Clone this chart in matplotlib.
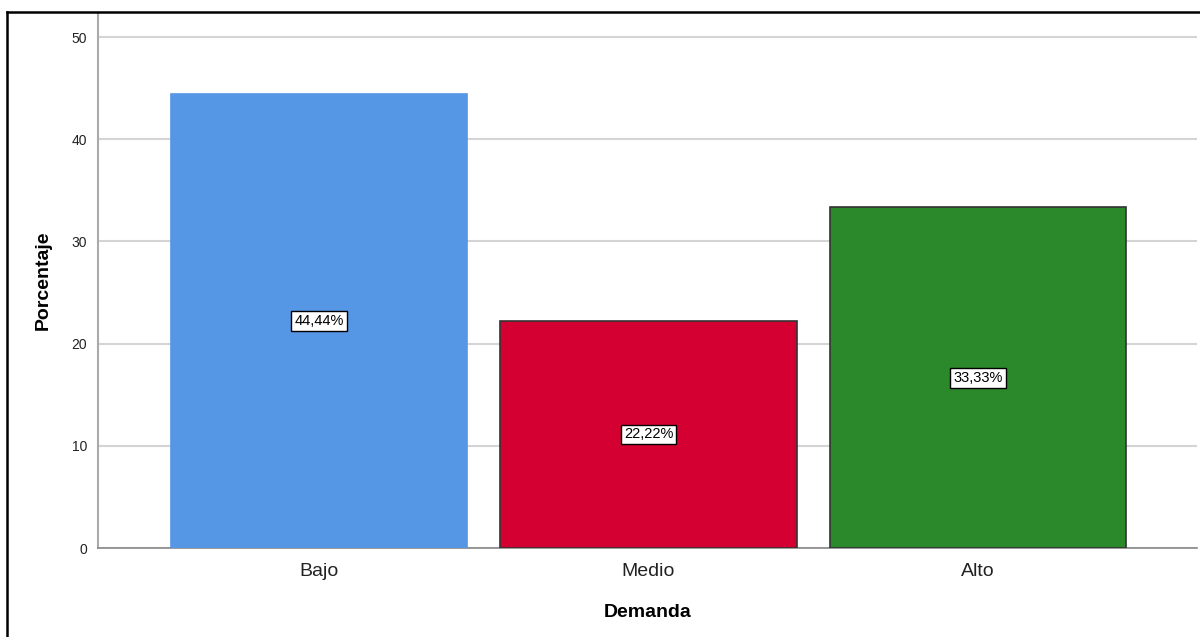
import matplotlib
matplotlib.use("Agg")
import matplotlib.pyplot as plt
from matplotlib.lines import Line2D

categories = ["Bajo", "Medio", "Alto"]
values = [44.44, 22.22, 33.33]
labels = ["44,44%", "22,22%", "33,33%"]
colors = ["#5596E5", "#D50032", "#2B882B"]
edges = ["#5596E5", "#333333", "#333333"]
yticks = [0, 10, 20, 30, 40, 50]

plt.rcParams['font.family'] = ['Liberation Sans', 'DejaVu Sans']

fig = plt.figure(figsize=(12, 6.37), dpi=100)
ax = fig.add_axes([98/1200, 1 - 548/637, (1197-98)/1200, (548-13)/637])

x = list(range(len(categories)))
ax.bar(x, values, width=0.9, color=colors, edgecolor=edges, linewidth=1.2, zorder=3)
for xi, v, lab in zip(x, values, labels):
    ax.text(xi, v/2, lab, ha='center', va='center', fontsize=10.5, zorder=4,
            bbox=dict(boxstyle='square,pad=0.2', facecolor='white', edgecolor='black', linewidth=1))

ax.set_xlim(-0.671, 2.665)
ax.set_ylim(0, 52.35)
ax.set_yticks(yticks)
ax.set_yticklabels([str(t) for t in yticks], fontsize=10, color='#222222')
ax.set_xticks(x)
ax.set_xticklabels(categories, fontsize=14, color='#222222')
ax.tick_params(axis='y', length=0, pad=8)
ax.tick_params(axis='x', length=0, pad=11)
ax.yaxis.grid(True, color='#D4D4D4', linewidth=1.5, zorder=0)
ax.set_axisbelow(True)
for s in ['top', 'right']:
    ax.spines[s].set_visible(False)
ax.spines['left'].set_color('#AAAAAA')
ax.spines['left'].set_linewidth(1.5)
ax.spines['bottom'].set_color('#888888')
ax.spines['bottom'].set_linewidth(1.2)

ax.set_xlabel("Demanda", fontsize=14, fontweight='bold', labelpad=17)
ax.set_ylabel("Porcentaje", fontsize=14, fontweight='bold', labelpad=14)

fig.add_artist(Line2D([7/1200, 7/1200], [0, 1 - 12/637], color='black', linewidth=1.8, transform=fig.transFigure))
fig.add_artist(Line2D([7/1200, 1], [1 - 12/637, 1 - 12/637], color='black', linewidth=1.8, transform=fig.transFigure))

fig.savefig("out.png", dpi=100)
